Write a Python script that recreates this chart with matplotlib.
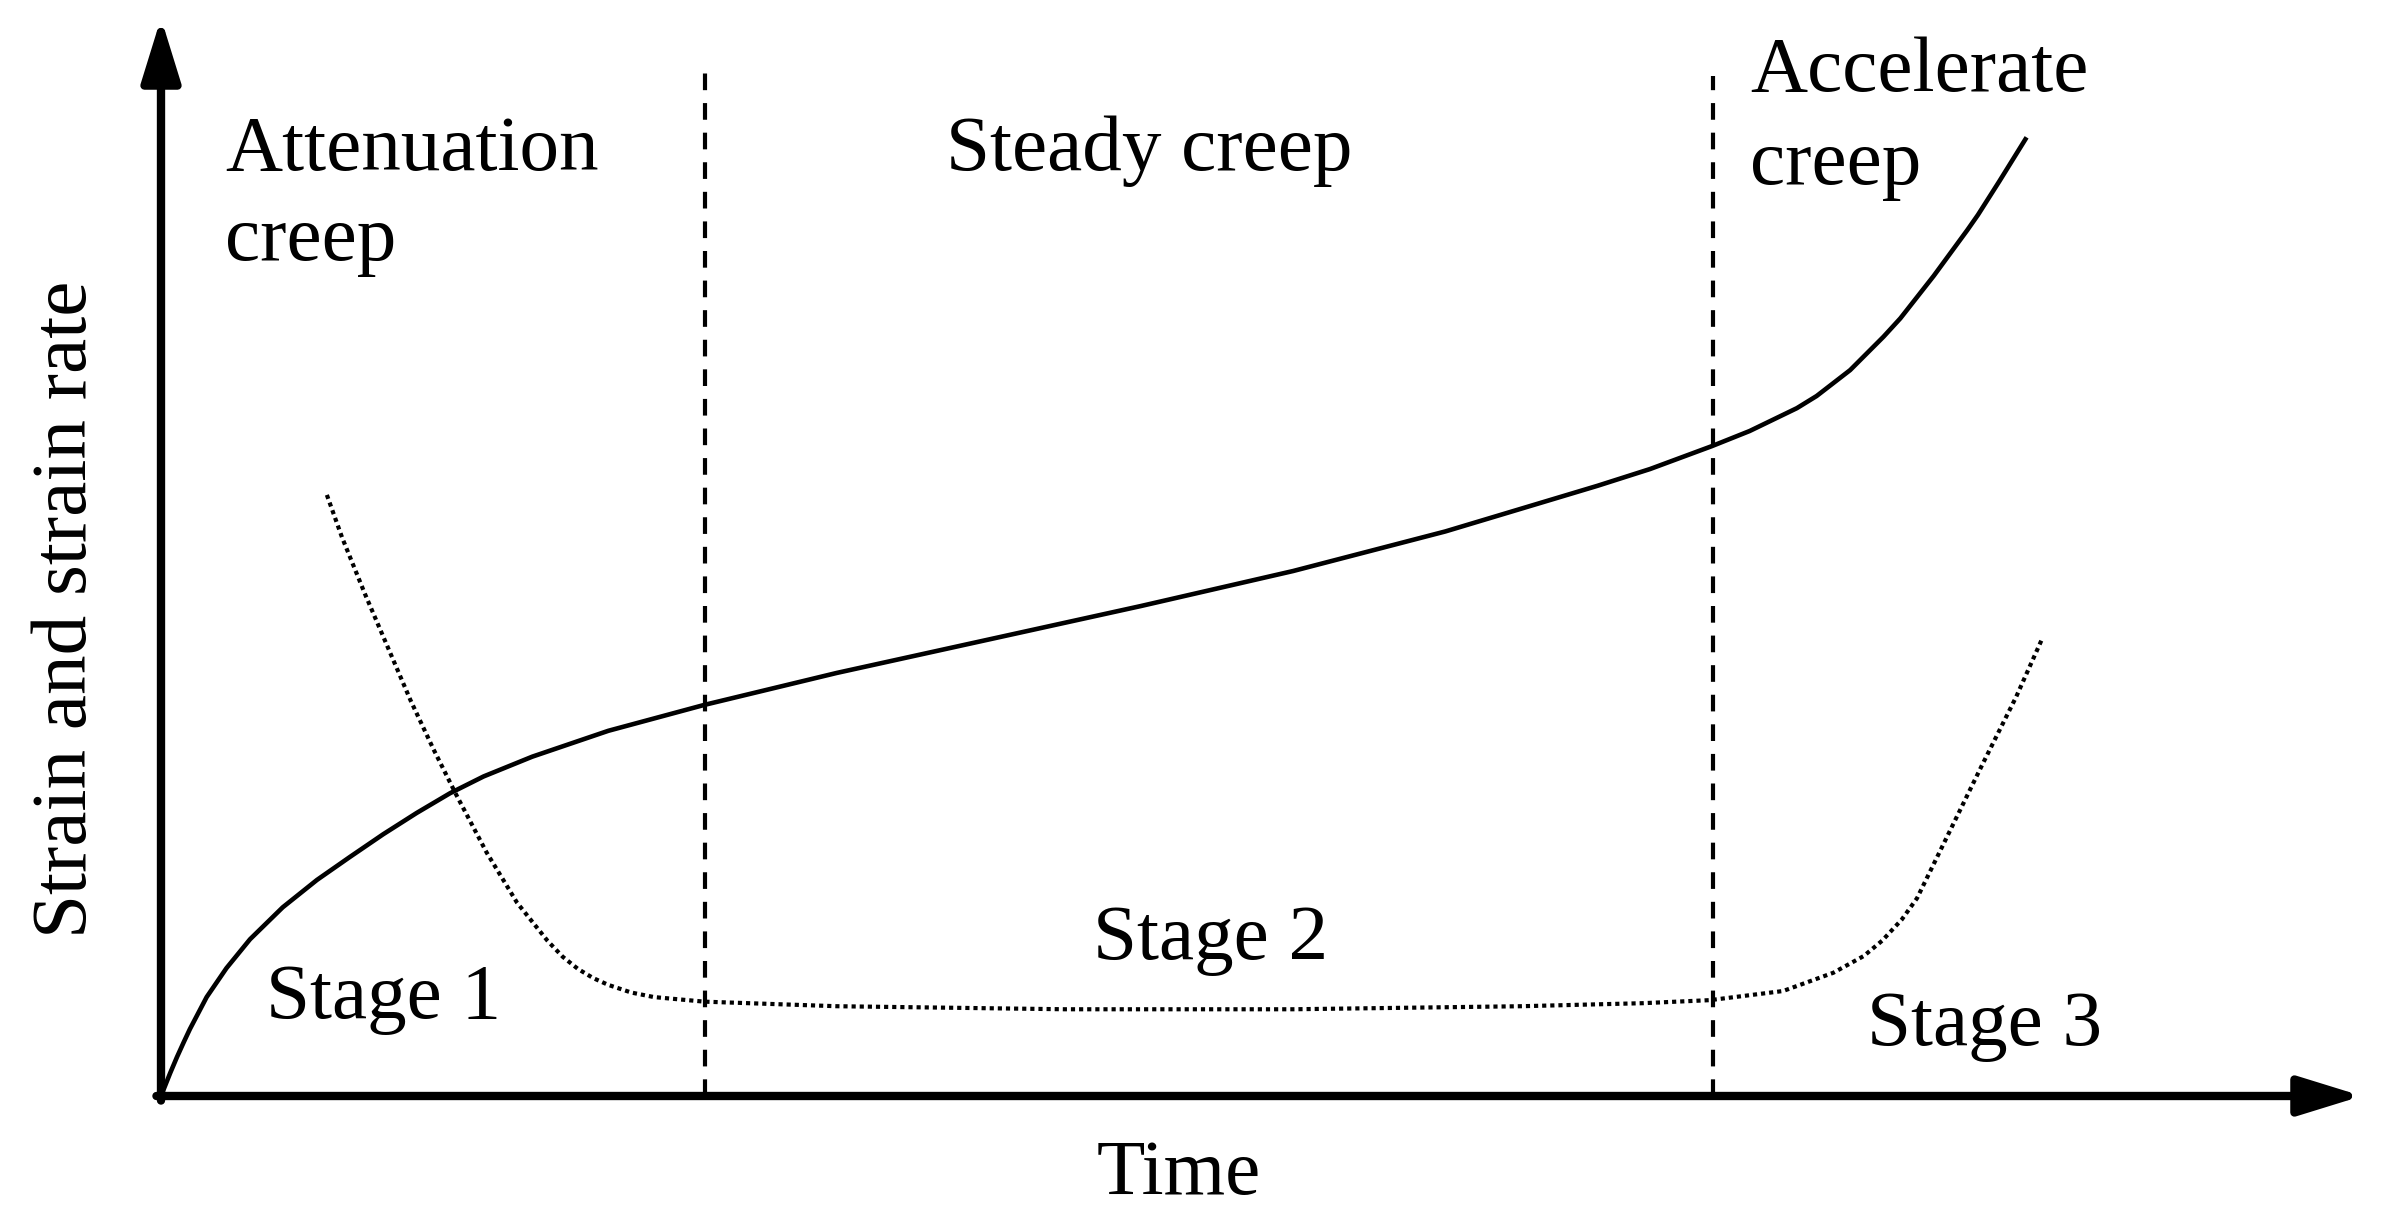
import matplotlib
matplotlib.use("Agg")
import matplotlib.pyplot as plt

plt.rcParams['font.family'] = ['Liberation Serif', 'DejaVu Serif']

# creep curve (strain), arbitrary time / strain units
strain_t = [0.0, 0.06, 0.105, 0.15, 0.19, 0.30, 0.43, 0.585, 0.80, 1.025,
            1.24, 1.46, 1.68, 1.90, 2.12, 2.44, 2.94, 3.57, 4.44, 5.44,
            6.44, 7.44, 8.44, 9.44, 9.785, 10.19, 10.44, 10.75, 10.88,
            11.10, 11.32, 11.43, 11.65, 11.87, 11.94, 12.08, 12.26]
strain_v = [0.0, 0.15, 0.256, 0.355, 0.44, 0.65, 0.84, 1.03, 1.24, 1.42,
            1.57, 1.72, 1.86, 1.99, 2.10, 2.23, 2.40, 2.57, 2.78, 3.00,
            3.22, 3.45, 3.71, 4.01, 4.12, 4.27, 4.37, 4.52, 4.60,
            4.77, 4.99, 5.11, 5.39, 5.69, 5.79, 6.01, 6.30]

# strain rate curve
rate_t = [1.09, 1.19, 1.34, 1.49, 1.64, 1.79, 1.94, 2.14, 2.34, 2.54, 2.64,
          2.74, 2.84, 2.94, 3.09, 3.24, 3.57, 4.44, 5.94, 7.44, 8.94, 9.74,
          10.18, 10.66, 10.99, 11.19, 11.31, 11.44, 11.54, 11.75, 11.97,
          12.19, 12.36]
rate_v = [3.95, 3.67, 3.30, 2.95, 2.60, 2.28, 1.98, 1.60, 1.27, 1.02, 0.915,
          0.835, 0.775, 0.73, 0.68, 0.65, 0.62, 0.59, 0.57, 0.57, 0.59, 0.61,
          0.63, 0.69, 0.81, 0.92, 1.02, 1.16, 1.30, 1.73, 2.18,
          2.62, 3.00]

# stage boundaries and how high the dashed lines go
stage_bounds = [3.575, 10.20]
bound_tops = [6.76, 6.70]

region_labels = ['Attenuation', 'creep', 'Steady creep', 'Accelerate', 'creep']
stage_labels = ['Stage 1', 'Stage 2', 'Stage 3']

W, H = 2386, 1227
fig = plt.figure(figsize=(W / 100, H / 100), dpi=100)
x0, y0 = 161, 1096          # origin in pixels
x_tip, y_tip = 2362, 18     # arrow tips in pixels
ax = fig.add_axes([x0 / W, (H - y0) / H, (x_tip - x0) / W, (y0 - y_tip) / H])
scale = 152.17              # pixels per data unit
xmax = (x_tip - x0) / scale
ymax = (y0 - y_tip) / scale
ax.set_xlim(0, xmax)
ax.set_ylim(0, ymax)
ax.set_axis_off()

# axes with arrow heads
arrow = dict(arrowstyle='-|>,head_length=0.55,head_width=0.17', lw=6,
             color='black', mutation_scale=70, shrinkA=0, shrinkB=0)
ax.annotate('', xy=(xmax, 0), xytext=(-0.03, 0), xycoords='data',
            arrowprops=arrow, annotation_clip=False)
ax.annotate('', xy=(0, ymax), xytext=(0, -0.03), xycoords='data',
            arrowprops=arrow, annotation_clip=False)

# stage boundaries
for xb, top in zip(stage_bounds, bound_tops):
    ax.plot([xb, xb], [0, top], color='black', lw=3.0,
            linestyle=(0, (4.0, 3.1)), clip_on=False)

# curves
ax.plot(strain_t, strain_v, color='black', lw=3.3, clip_on=False,
        solid_joinstyle='round', solid_capstyle='butt')
ax.plot(rate_t, rate_v, color='black', lw=3.0, linestyle=(0, (1.0, 0.95)),
        dash_capstyle='butt', clip_on=False)


def px(xf, yf):
    return (xf - x0) / scale, (y0 - yf) / scale


fs = 57
text_pos = [(225, 170), (225, 260), (946, 170), (1750, 91), (1750, 184)]
for lab, (xf, yf) in zip(region_labels, text_pos):
    ax.text(*px(xf, yf), lab, fontsize=fs, ha='left', va='baseline')

stage_pos = [(266, 1018), (1093, 959), (1867, 1045)]
for lab, (xf, yf) in zip(stage_labels, stage_pos):
    ax.text(*px(xf, yf), lab, fontsize=fs, ha='left', va='baseline')

ax.text(*px(1179, 1194), 'Time', fontsize=fs, ha='center', va='baseline',
        clip_on=False)
ax.text(*px(67, 609), 'Strain and strain rate', fontsize=fs, rotation=90,
        ha='center', va='center', clip_on=False)

fig.savefig('out.png', dpi=100)
